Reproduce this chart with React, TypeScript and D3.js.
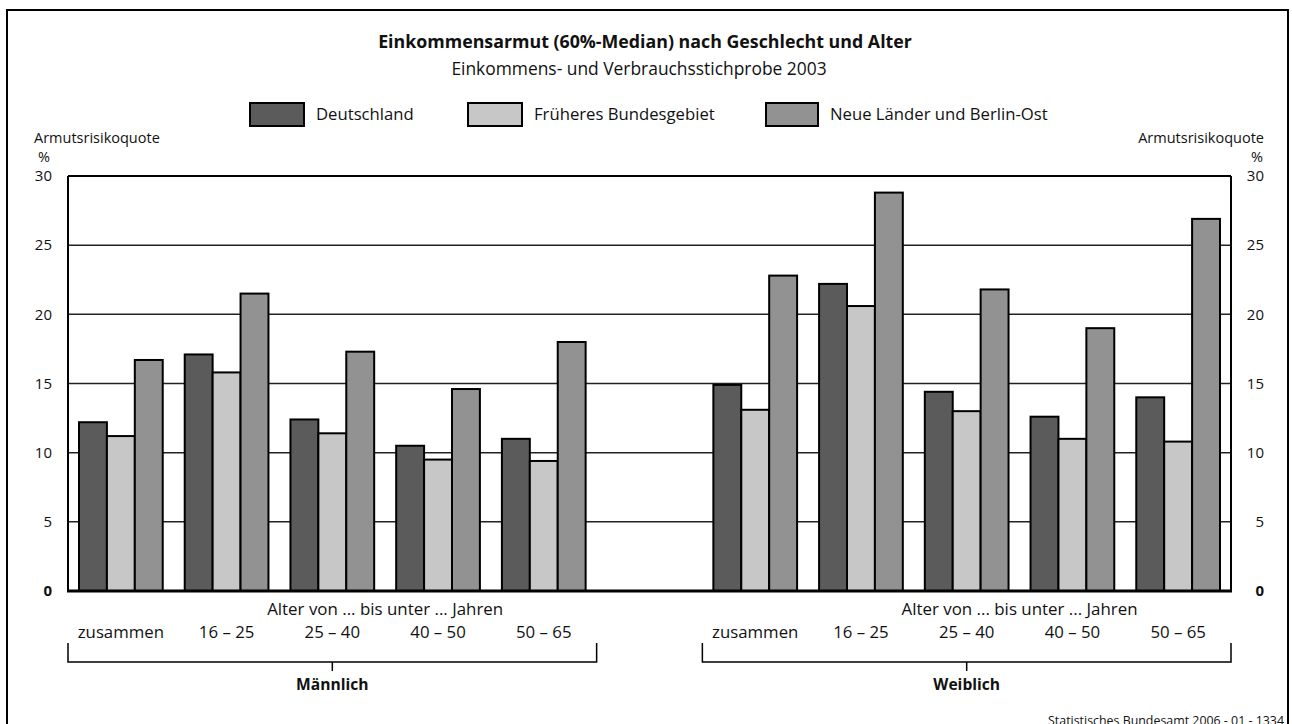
import React from "react";
import * as d3 from "d3";

const series = ["Deutschland", "Früheres Bundesgebiet", "Neue Länder und Berlin-Ost"];
const ageGroups = ["zusammen", "16 – 25", "25 – 40", "40 – 50", "50 – 65"];
const sexes = ["Männlich", "Weiblich"];
const maleD = [12.2, 17.1, 12.4, 10.5, 11.0];
const maleF = [11.2, 15.8, 11.4, 9.5, 9.4];
const maleN = [16.7, 21.5, 17.3, 14.6, 18.0];
const femaleD = [14.9, 22.2, 14.4, 12.6, 14.0];
const femaleF = [13.1, 20.6, 13.0, 11.0, 10.8];
const femaleN = [22.8, 28.8, 21.8, 19.0, 26.9];
const yTicks = [0, 5, 10, 15, 20, 25, 30];

const colors = ["#5b5b5b", "#c7c7c7", "#929292"];
const FONT = "'Open Sans', sans-serif";

const W = 1292;
const H = 724;
const plot = { left: 68, right: 1231, top: 176, bottom: 591 };

export default function App() {
  const values = [
    [maleD, maleF, maleN],
    [femaleD, femaleF, femaleN],
  ];
  // 11 slots: 5 male, 1 empty gap, 5 female
  const slots = [
    ...ageGroups.map((a) => `M|${a}`),
    "gap",
    ...ageGroups.map((a) => `W|${a}`),
  ];
  const x0 = d3.scaleBand<string>().domain(slots).range([plot.left, plot.right]).padding(0);
  const bw = x0.bandwidth();
  const x1 = d3.scaleBand<string>().domain(series).range([11, bw - 11]).padding(0);
  const y = d3.scaleLinear().domain([0, 30]).range([plot.bottom, plot.top]);

  const bars: { x: number; y: number; w: number; h: number; c: string; k: string }[] = [];
  sexes.forEach((s, si) => {
    ageGroups.forEach((a, ai) => {
      series.forEach((ser, k) => {
        const v = values[si][k][ai];
        const sx = x0(`${si === 0 ? "M" : "W"}|${a}`)! + x1(ser)!;
        bars.push({ x: sx, y: y(v), w: x1.bandwidth(), h: y(0) - y(v), c: colors[k], k: `${s}-${a}-${ser}` });
      });
    });
  });

  const legendX = [250, 468, 766];
  const legendW = [54, 54, 52];

  return (
    <svg width={W} height={H} style={{ position: "absolute", left: 0, top: 0, background: "#fff" }} fontFamily={FONT}>
      <rect x={0} y={0} width={W} height={H} fill="#fff" />
      <rect x={7} y={10} width={1281} height={730} fill="none" stroke="#000" strokeWidth={2} />

      <text x={645} y={48} textAnchor="middle" fontSize={17.8} fontWeight="bold" fill="#111">
        Einkommensarmut (60%-Median) nach Geschlecht und Alter
      </text>
      <text x={639} y={75} textAnchor="middle" fontSize={17.4} fill="#111">
        Einkommens- und Verbrauchsstichprobe 2003
      </text>

      {series.map((s, i) => (
        <g key={s}>
          <rect x={legendX[i]} y={103} width={legendW[i]} height={23} fill={colors[i]} stroke="#000" strokeWidth={2} />
          <text x={legendX[i] + legendW[i] + 12} y={120} fontSize={16.7} fill="#111">
            {s}
          </text>
        </g>
      ))}

      <text x={34} y={143} fontSize={14.5} fill="#111">Armutsrisikoquote</text>
      <text x={44} y={162} fontSize={14.5} textAnchor="middle" fill="#111">%</text>
      <text x={1264} y={143} fontSize={14.5} textAnchor="end" fill="#111">Armutsrisikoquote</text>
      <text x={1257} y={162} fontSize={14.5} textAnchor="middle" fill="#111">%</text>

      {/* gridlines */}
      {yTicks.filter((t) => t > 0 && t < 30).map((t) => (
        <line key={t} x1={plot.left} x2={plot.right} y1={y(t)} y2={y(t)} stroke="#222" strokeWidth={1.5} />
      ))}

      {yTicks.map((t) => (
        <g key={`l${t}`} fontSize={15} fontWeight={t === 0 ? "bold" : "normal"} fill="#111">
          <text x={52} y={y(t)} dy="0.35em" textAnchor="end">{t}</text>
          <text x={1264} y={y(t)} dy="0.35em" textAnchor="end">{t}</text>
        </g>
      ))}

      {bars.map((b) => (
        <rect key={b.k} x={b.x} y={b.y} width={b.w} height={b.h} fill={b.c} stroke="#000" strokeWidth={2} />
      ))}

      {/* frame of plot */}
      <line x1={plot.left} x2={plot.right} y1={plot.top} y2={plot.top} stroke="#000" strokeWidth={2} />
      <line x1={plot.left} x2={plot.left} y1={plot.top} y2={plot.bottom} stroke="#000" strokeWidth={2} />
      <line x1={plot.right} x2={plot.right} y1={plot.top} y2={plot.bottom} stroke="#000" strokeWidth={2} />
      <line x1={plot.left - 1} x2={plot.right + 1} y1={plot.bottom} y2={plot.bottom} stroke="#000" strokeWidth={3} />

      {sexes.map((s, si) => {
        const p = si === 0 ? "M" : "W";
        const xs = x0(`${p}|${ageGroups[0]}`)!;
        const xe = x0(`${p}|${ageGroups[ageGroups.length - 1]}`)! + bw;
        const xa = x0(`${p}|${ageGroups[1]}`)!;
        const xc = (xs + xe) / 2;
        return (
          <g key={s}>
            <text x={(xa + xe) / 2} y={615} textAnchor="middle" fontSize={16.9} fill="#111">
              Alter von ... bis unter ... Jahren
            </text>
            {ageGroups.map((a) => (
              <text key={a} x={x0(`${p}|${a}`)! + bw / 2} y={638} textAnchor="middle" fontSize={16.8} fill="#111">
                {a}
              </text>
            ))}
            <path d={`M${xs},643V662H${xe}V643`} fill="none" stroke="#000" strokeWidth={1.5} />
            <line x1={xc} x2={xc} y1={662} y2={671} stroke="#000" strokeWidth={1.5} />
            <text x={xc} y={690} textAnchor="middle" fontSize={15.6} fontWeight="bold" fill="#111">
              {s}
            </text>
          </g>
        );
      })}

      <text x={1284} y={725} textAnchor="end" fontSize={12.4} fill="#111">
        Statistisches Bundesamt 2006 - 01 - 1334
      </text>
    </svg>
  );
}
